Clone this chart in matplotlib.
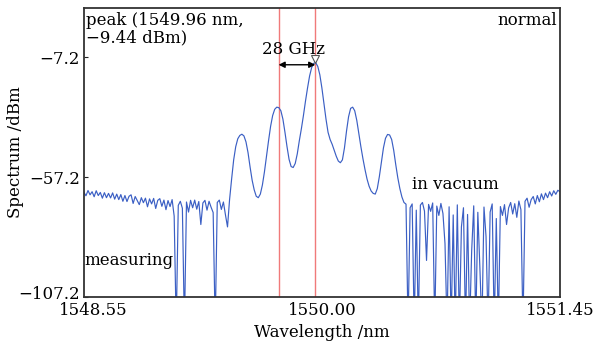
import numpy as np
import matplotlib.pyplot as plt
from matplotlib import transforms

plt.rcParams['font.family'] = ['DejaVu Serif']

# optical spectrum, sampled every 0.0125 nm from 1548.55 to 1551.45 nm (dBm)
noise_left = [-63.5, -65.0, -62.8, -64.6, -63.3, -65.4, -62.9, -64.9, -63.6, -66.0,
              -63.7, -65.8, -64.0, -65.9, -63.8, -66.4, -64.3, -66.6, -64.5, -67.3,
              -64.9, -67.4, -65.2, -64.6, -68.2, -65.3, -67.0, -68.7, -65.8, -67.9,
              -66.0, -69.6, -66.3, -68.4, -66.1, -70.3, -66.9, -66.2, -69.4, -66.8,
              -70.8, -67.0, -69.5, -66.6, -73.5, -120.0, -69.0, -67.3, -70.2, -120.0,
              -67.6, -71.8, -66.9, -70.0, -66.8, -70.6, -67.4, -77.0, -68.0, -66.9,
              -71.0, -67.3, -69.8, -72.0, -120.0, -67.8, -66.8, -70.7, -67.6, -73.0,
              -78.0, -66.6, -58.0]
comb = [-50.0, -44.5, -41.2, -39.8, -39.3, -40.0, -42.5,
        -47.0, -53.0, -58.5, -62.5, -65.2, -65.8, -64.3, -60.5, -55.0, -48.5,
        -42.0, -36.0, -31.5, -28.9, -28.0, -28.2, -29.5, -33.0, -38.5, -44.5,
        -49.8, -52.8, -53.2, -51.5, -47.5, -42.0, -37.0, -31.5, -25.5, -20.0,
        -15.0, -11.5, -9.7, -9.44, -11.0, -14.5, -20.0, -26.5, -33.0, -38.5,
        -41.5, -43.5, -46.0, -48.5, -50.5, -51.2, -50.0, -45.0, -38.0, -32.0,
        -28.5, -28.0, -29.5, -33.5, -39.0, -44.5, -49.5, -54.0, -58.0, -61.0,
        -63.0, -64.0, -64.3, -62.0, -57.0, -51.0, -45.0, -41.0, -39.4, -39.6,
        -41.5, -46.0, -52.0, -57.5, -62.0, -65.5, -67.8]
noise_right = [-68.5, -120.0, -70.0, -68.4, -120.0, -71.0, -120.0, -68.9, -67.8, -71.4,
               -92.0, -68.6, -71.5, -68.0, -120.0, -69.3, -73.2, -68.2, -72.4, -85.0,
               -120.0, -69.6, -120.0, -73.0, -120.0, -68.8, -120.0, -78.0, -70.0, -120.0,
               -72.8, -120.0, -88.0, -69.2, -120.0, -71.9, -95.0, -120.0, -69.7, -82.0,
               -120.0, -71.8, -68.4, -120.0, -74.5, -120.0, -69.5, -73.2, -68.7, -77.0,
               -70.1, -67.8, -72.6, -68.3, -74.0, -67.2, -70.8, -120.0, -67.3, -66.0,
               -69.8, -66.6, -65.3, -68.4, -64.9, -67.5, -64.2, -66.6, -63.9, -65.8,
               -63.3, -65.1, -62.9, -64.4, -62.7, -63.3]

power = np.array(noise_left + comb + noise_right)
wavelength = np.linspace(1548.55, 1551.45, len(power))

peak_wl = 1549.96
peak_dbm = -9.44
neighbour_wl = 1549.736  # 28 GHz away from the peak
arrow_dbm = -10.3

fs = 12

fig = plt.figure(figsize=(5.95, 3.48), dpi=100)
ax = fig.add_axes([0.141, 0.147, 0.8, 0.83])

ax.axvline(neighbour_wl, color='#f07a7a', lw=1.0)
ax.axvline(peak_wl, color='#f07a7a', lw=1.0)
ax.plot(wavelength, power, color='#3b5fc4', lw=0.85)

up = transforms.offset_copy(ax.transData, fig=fig, y=2.5, units='points')
ax.plot([peak_wl], [peak_dbm], marker='v', ms=6, mfc='white', mec='#555555',
        mew=0.8, transform=up)
ax.annotate('', xy=(neighbour_wl, arrow_dbm), xytext=(peak_wl, arrow_dbm),
            arrowprops=dict(arrowstyle='<|-|>', color='black', lw=1.0,
                            mutation_scale=9, shrinkA=0, shrinkB=0))

ax.set_xlim(1548.55, 1551.45)
ax.set_ylim(-107.2, 13.4)
ax.set_xticks([1548.55, 1550.00, 1551.45])
ax.set_xticklabels(['1548.55', '1550.00', '1551.45'])
ax.set_yticks([-7.2, -57.2, -107.2])
ax.set_yticklabels(['\u22127.2', '\u221257.2', '\u2212107.2'])
ax.tick_params(direction='in', length=3, width=0.8, labelsize=fs, pad=3,
               colors='#222222', labelcolor='black')
ax.tick_params(axis='x', length=0, pad=4)
for s in ax.spines.values():
    s.set_color('#333333')
    s.set_linewidth(1.3)

# nudge the two corner labels apart, as in the original
xl0 = ax.get_xticklabels()[0]
xl0.set_transform(xl0.get_transform() + transforms.ScaledTranslation(7 / 72, 0, fig.dpi_scale_trans))
yl0 = ax.get_yticklabels()[2]
yl0.set_transform(yl0.get_transform() + transforms.ScaledTranslation(0, 3 / 72, fig.dpi_scale_trans))

ax.set_xlabel('Wavelength /nm', fontsize=fs, labelpad=3)
ax.set_ylabel('Spectrum /dBm', fontsize=fs)
ax.yaxis.set_label_coords(-0.125, 0.5)

ax.text(0.005, 0.985, 'peak (1549.96 nm,\n\u22129.44 dBm)', transform=ax.transAxes,
        ha='left', va='top', fontsize=fs, linespacing=1.0)
ax.text(0.994, 0.985, 'normal', transform=ax.transAxes, ha='right', va='top', fontsize=fs)
ax.text(1549.83, -3.8, '28 GHz', ha='center', va='center', fontsize=fs)
ax.text(1550.55, -60.5, 'in vacuum', ha='left', va='center', fontsize=fs)
ax.text(1548.555, -92.0, 'measuring', ha='left', va='center', fontsize=fs)

fig.savefig('out.png', dpi=100)
